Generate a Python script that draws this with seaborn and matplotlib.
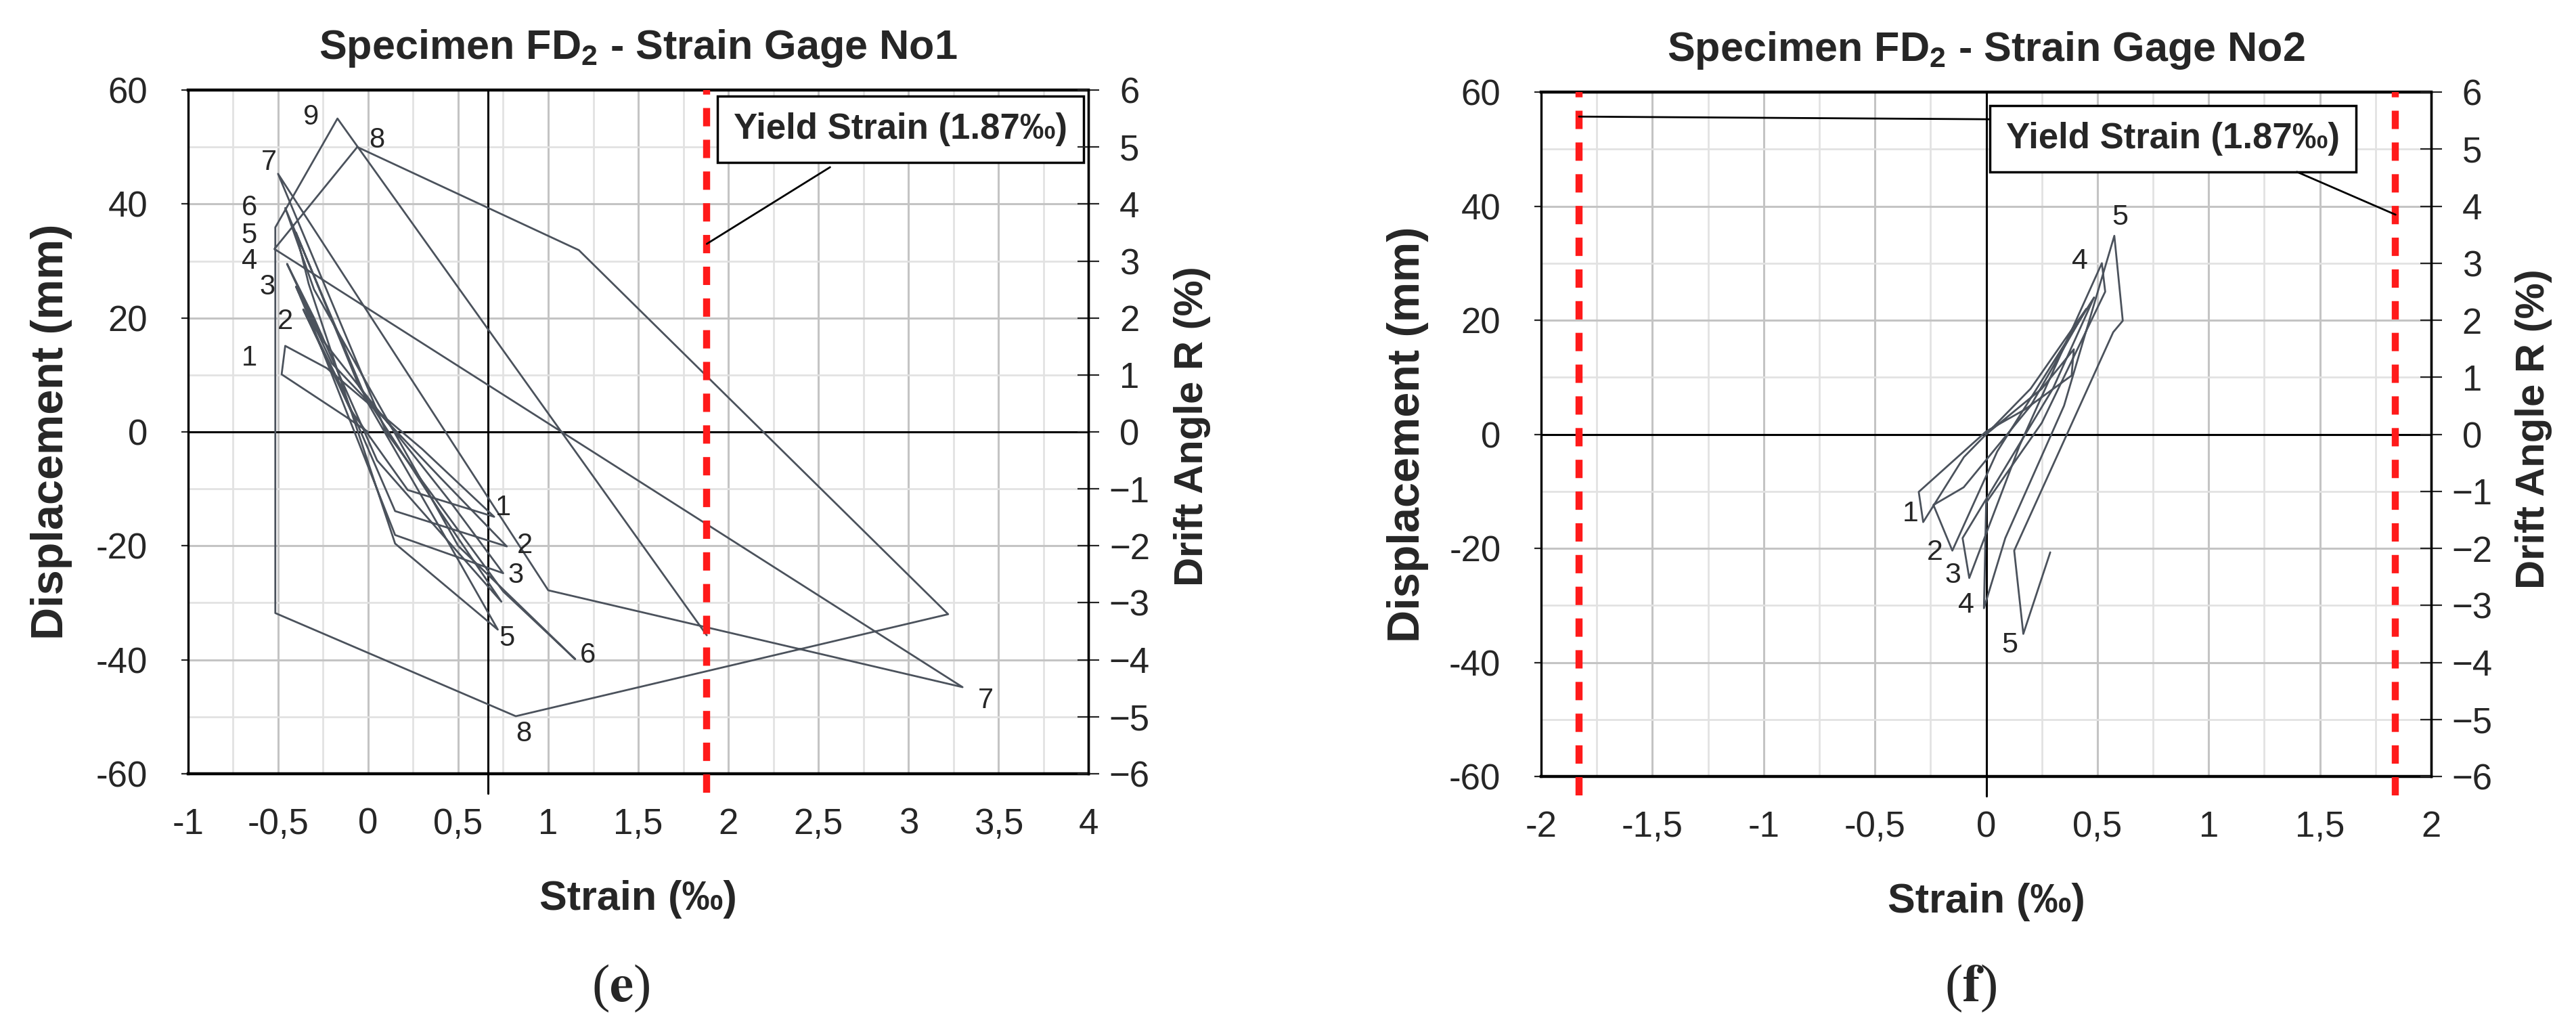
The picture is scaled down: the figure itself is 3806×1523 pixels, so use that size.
import numpy as np
import pandas as pd
import seaborn as sns
import matplotlib
matplotlib.use("Agg")
import matplotlib.pyplot as plt

# ---- gage No1: hysteresis path (strain in permil, displacement in mm)
g1_strain = [0.00, -0.13, -0.48, -0.46, -0.23, 0.30, 0.70, 0.22, -0.10,
             -0.36, -0.15, 0.15, 0.77, 0.40, -0.20,
             -0.40, -0.30, 0.15, 0.75, 0.45, -0.25,
             -0.45, -0.30, 0.05, 0.74, 0.40, -0.05,
             -0.40, -0.33, 0.15, 0.72, 0.42, 0.00,
             -0.46, -0.30, 0.50, 1.15, 0.75, 0.10,
             -0.50, 1.00, 3.30, -0.52,
             -0.06, 1.17, 3.22, 0.82, -0.515, -0.515,
             -0.17, 1.88]
g1_disp = [0.0, 2.8, 10.1, 15.1, 11.2, -3.0, -14.9, -10.2, 4.0,
           21.5, 8.0, -13.9, -20.1, -8.0, 12.0,
           25.5, 18.0, -18.1, -24.8, -12.0, 16.0,
           29.5, 20.0, -5.0, -29.8, -14.0, 8.0,
           35.0, 26.0, -19.6, -34.7, -18.0, 5.0,
           39.3, 25.0, -20.0, -39.9, -28.0, 0.0,
           45.3, -27.8, -44.8, 32.1,
           50.0, 31.9, -32.0, -49.9, -31.8, 35.9,
           55.0, -35.7]

# cycle numbers written next to the loops
g1_label_txt = ["9", "8", "7", "6", "5", "4", "3", "2", "1",
                "1", "2", "3", "5", "6", "7", "8"]
g1_label_x = [-0.315, 0.05, -0.55, -0.66, -0.66, -0.66, -0.56, -0.46, -0.66,
              0.75, 0.87, 0.82, 0.77, 1.22, 3.43, 0.865]
g1_label_y = [55.2, 51.2, 47.3, 39.3, 34.5, 30.0, 25.4, 19.4, 12.9,
              -13.3, -20.0, -25.2, -36.2, -39.2, -47.2, -53.0]

# ---- gage No2
g2_strain = [0.00, 0.25, 0.394, 0.384, 0.172, 0.00, -0.303, -0.283, -0.10, 0.20,
             0.45, 0.20, -0.101, -0.237, -0.152, 0.05,
             0.485, 0.30, -0.106, -0.076, 0.15,
             0.52, 0.535, 0.25, 0.00, -0.01, 0.086, 0.35,
             0.576, 0.614, 0.571, 0.126, 0.167, 0.288]
g2_disp = [0.0, 8.0, 14.9, 10.3, 4.3, 0.5, -10.1, -15.4, -4.0, 8.0,
           22.0, 5.0, -9.3, -12.4, -20.4, -3.0,
           24.0, 8.0, -18.2, -25.2, -2.0,
           30.0, 25.0, 2.0, -12.0, -30.5, -18.2, 5.0,
           34.8, 19.9, 17.9, -20.4, -35.0, -20.7]

g2_label_txt = ["1", "2", "3", "4", "5", "4", "5"]
g2_label_x = [-0.34, -0.23, -0.15, -0.09, 0.105, 0.42, 0.60]
g2_label_y = [-13.9, -20.7, -24.7, -30.0, -37.0, 30.3, 38.0]

# yield strain lines and tick labels
yield_text = "Yield Strain (1.87‰)"
g1_yield_x = [1.88]
g2_yield_x = [-1.83, 1.84]
g1_axis_x = 0.665   # vertical black line in panel (e)
g2_axis_x = 0.0

g1_xticks = [-1, -0.5, 0, 0.5, 1, 1.5, 2, 2.5, 3, 3.5, 4]
g1_xticklabels = ["-1", "-0,5", "0", "0,5", "1", "1,5", "2", "2,5", "3", "3,5", "4"]
g2_xticks = [-2, -1.5, -1, -0.5, 0, 0.5, 1, 1.5, 2]
g2_xticklabels = ["-2", "-1,5", "-1", "-0,5", "0", "0,5", "1", "1,5", "2"]
disp_ticks = [-60, -40, -20, 0, 20, 40, 60]
disp_ticklabels = ["-60", "-40", "-20", "0", "20", "40", "60"]
drift_ticks = [-6, -5, -4, -3, -2, -1, 0, 1, 2, 3, 4, 5, 6]
drift_ticklabels = ["\u22126", "\u22125", "\u22124", "\u22123", "\u22122", "\u22121",
                    "0", "1", "2", "3", "4", "5", "6"]

sns.set_style("white")
plt.rcParams['font.family'] = ['Liberation Sans', 'DejaVu Sans']
plt.rcParams['mathtext.fontset'] = 'custom'
plt.rcParams['mathtext.rm'] = 'Liberation Sans'
plt.rcParams['mathtext.bf'] = 'Liberation Sans:bold'
plt.rcParams['mathtext.it'] = 'Liberation Sans:italic'

LINE = "#4b525c"
RED = "#ff1a1a"

fig = plt.figure(figsize=(38.06, 15.23), dpi=100)
ax1 = fig.add_axes([0.07296, 0.24951, 0.34966, 0.66316])
ax2 = fig.add_axes([0.59827, 0.24688, 0.34551, 0.66382])


def panel(ax, strain, disp, xlim, xticks, xticklabels, title, axis_x, yield_x):
    df = pd.DataFrame({"strain": strain, "disp": disp})
    ax.set_xlim(*xlim)
    ax.set_ylim(-60, 60)
    ax.set_xticks(xticks)
    ax.set_xticklabels(xticklabels)
    ax.set_xticks(np.arange(xlim[0], xlim[1] + 0.01, 0.25), minor=True)
    ax.set_yticks(disp_ticks)
    ax.set_yticklabels(disp_ticklabels)
    ax.set_yticks(np.arange(-60, 61, 10), minor=True)
    ax.grid(which="minor", color="#e2e2e2", lw=2.0)
    ax.grid(which="major", color="#c4c4c4", lw=2.2)
    ax.set_axisbelow(True)
    ax.tick_params(which="minor", length=0)
    ax.tick_params(axis="x", which="major", direction="out", length=9, width=1.6,
                   pad=27, labelsize=38)
    ax.tick_params(axis="y", which="major", direction="out", length=7, width=1.6,
                   pad=36, labelsize=38)
    for s in ["top", "bottom"]:
        ax.spines[s].set_linewidth(3.2)
    for s in ["left", "right"]:
        ax.spines[s].set_linewidth(2.4)
    for s in ax.spines.values():
        s.set_color("black")

    ax.axhline(0, color="black", lw=2.2, zorder=2)
    ax.axvline(axis_x, ymin=-0.029, ymax=1, color="black", lw=2.2, zorder=2, clip_on=False)

    sns.lineplot(data=df, x="strain", y="disp", sort=False, estimator=None,
                 color=LINE, lw=2.0, ax=ax, zorder=3)

    for xv in yield_x:
        ax.axvline(xv, ymin=-0.028, ymax=1, color=RED, lw=7.5, zorder=4,
                   dashes=(2.6, 1.9), clip_on=False)

    ax.set_title(title, fontsize=44, fontweight="bold", pad=33)
    ax.set_xlabel("Strain (‰)", fontsize=44, fontweight="bold")
    ax.xaxis.set_label_coords(0.5, -0.155)
    ax.set_ylabel("Displacement (mm)", fontsize=48, fontweight="bold", va="center")

    twin = ax.twinx()
    twin.set_ylim(-6, 6)
    twin.set_yticks(drift_ticks)
    twin.set_yticklabels(drift_ticklabels)
    twin.tick_params(axis="y", direction="inout", length=23, width=1.6, pad=32,
                     labelsize=38)
    for lbl in twin.get_yticklabels():
        lbl.set_horizontalalignment("center")
    for s in ["top", "bottom", "left"]:
        twin.spines[s].set_visible(False)
    twin.spines["right"].set_linewidth(2.4)
    twin.spines["right"].set_color("black")
    twin.set_ylabel("Drift Angle R (%)", fontsize=43, fontweight="bold",
                    rotation=90, va="center")
    twin.yaxis.set_label_coords(1.115, 0.508)
    twin.grid(False)
    return twin


panel(ax1, g1_strain, g1_disp, (-1, 4), g1_xticks, g1_xticklabels,
      r"Specimen FD$_\mathbf{2}$ - Strain Gage No1", g1_axis_x, g1_yield_x)
ax1.yaxis.set_label_coords(-0.1516, 0.5)
panel(ax2, g2_strain, g2_disp, (-2, 2), g2_xticks, g2_xticklabels,
      r"Specimen FD$_\mathbf{2}$ - Strain Gage No2", g2_axis_x, g2_yield_x)
ax2.yaxis.set_label_coords(-0.150, 0.5)

for t, x, y in zip(g1_label_txt, g1_label_x, g1_label_y):
    ax1.text(x, y, t, fontsize=30, ha="center", va="center", zorder=5)
for t, x, y in zip(g2_label_txt, g2_label_x, g2_label_y):
    ax2.text(x, y, t, fontsize=31, ha="center", va="center", zorder=5)

box = dict(boxstyle="square,pad=0.45", fc="white", ec="black", lw=2.5)
ax1.annotate(yield_text, xy=(g1_yield_x[0], 33), xytext=(2.955, 53.1),
             ha="center", va="center", fontsize=38, fontweight="bold", bbox=box,
             zorder=6, arrowprops=dict(arrowstyle="-", color="black", lw=2.0,
                                       relpos=(0.39, 0), shrinkA=8, shrinkB=0))
ax2.annotate(yield_text, xy=(g2_yield_x[0], 55.7), xytext=(0.84, 51.8),
             ha="center", va="center", fontsize=38, fontweight="bold", bbox=box,
             zorder=6, arrowprops=dict(arrowstyle="-", color="black", lw=2.0,
                                       relpos=(0, 1.075), shrinkA=0, shrinkB=0))
ax2.annotate(yield_text, xy=(g2_yield_x[1], 38.5), xytext=(0.84, 51.8),
             ha="center", va="center", fontsize=38, fontweight="bold", color="none",
             bbox=dict(boxstyle="square,pad=0.45", fc="none", ec="none"),
             zorder=6, arrowprops=dict(arrowstyle="-", color="black", lw=2.0,
                                       relpos=(0.76, 0), shrinkA=0, shrinkB=0))

fig.text(0.241, 0.0414, r"($\mathbf{e}$)", fontsize=57, ha="center", va="center",
         family="Liberation Serif", math_fontfamily="stix")
fig.text(0.765, 0.0414, r"($\mathbf{f}$)", fontsize=57, ha="center", va="center",
         family="Liberation Serif", math_fontfamily="stix")

fig.savefig("out.png", dpi=100)
plt.close(fig)
